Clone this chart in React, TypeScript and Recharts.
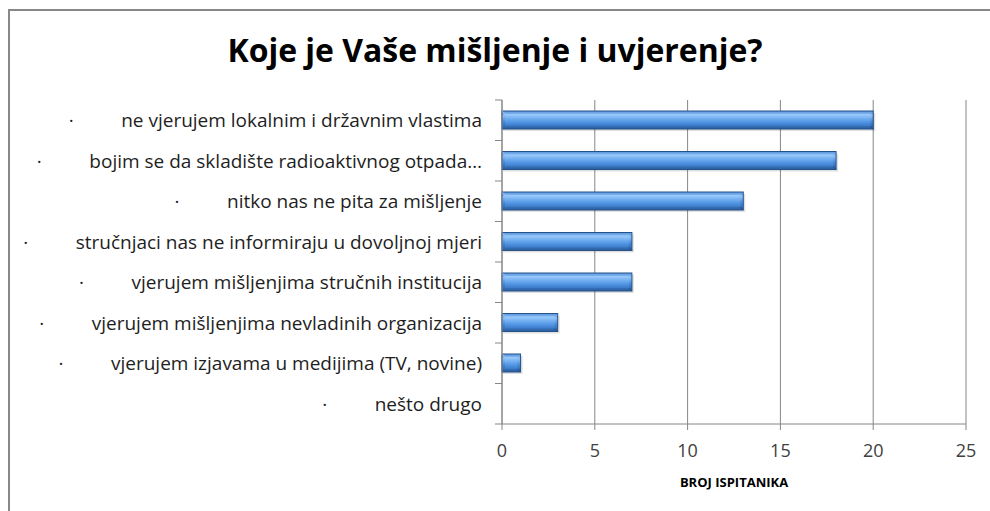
import React from 'react'
import { Bar, BarChart, CartesianGrid, XAxis, YAxis } from 'recharts'

const categories = [
  'ne vjerujem lokalnim i državnim vlastima',
  'bojim se da skladište radioaktivnog otpada…',
  'nitko nas ne pita za mišljenje',
  'stručnjaci nas ne informiraju u dovoljnoj mjeri',
  'vjerujem mišljenjima stručnih institucija',
  'vjerujem mišljenjima nevladinih organizacija',
  'vjerujem izjavama u medijima (TV, novine)',
  'nešto drugo',
]
const counts = [20, 18, 13, 7, 7, 3, 1, 0]
const xTicks = [0, 5, 10, 15, 20, 25]

const data = categories.map((name, i) => ({ name, value: counts[i] }))

const W = 990
const H = 511
const PLOT_LEFT = 502
const PLOT_TOP = 100
const PLOT_BOTTOM = 424
const BAND = (PLOT_BOTTOM - PLOT_TOP) / categories.length
const GRID = '#868686'
const FONT = '"Open Sans", sans-serif'

function CategoryTick(props: any) {
  const { y, payload, index } = props
  const last = index === categories.length - 1
  return (
    <g>
      <line x1={PLOT_LEFT - 7} x2={PLOT_LEFT} y1={y - BAND / 2} y2={y - BAND / 2} stroke={GRID} />
      {last && (
        <line x1={PLOT_LEFT - 7} x2={PLOT_LEFT} y1={y + BAND / 2} y2={y + BAND / 2} stroke={GRID} />
      )}
      <text
        x={PLOT_LEFT - 20}
        y={y}
        dy="0.38em"
        textAnchor="end"
        fontFamily={FONT}
        fontSize={19}
        fill="#1e1e1e"
      >
        {'·\u2002\u2002\u2002\u2002\u2002' + payload.value}
      </text>
    </g>
  )
}

function BevelBar(props: any) {
  const { x, y, width, height } = props
  if (!width || width <= 0) return null
  const inset = Math.min(3, width / 3)
  return (
    <g>
      <rect x={x + 1} y={y + 2} width={width + 1} height={height} fill="#000" opacity={0.12} />
      <rect x={x} y={y} width={width} height={height} fill="url(#barOuter)" stroke="#24538a" strokeWidth={1} />
      <rect
        x={x + inset}
        y={y + 3}
        width={Math.max(0, width - inset * 2)}
        height={height - 6}
        fill="url(#barInner)"
      />
      <line x1={x} y1={y} x2={x + inset} y2={y + 3} stroke="#a8cdf5" strokeWidth={0.8} />
      <line x1={x + width} y1={y + height} x2={x + width - inset} y2={y + height - 3} stroke="#1d4675" strokeWidth={0.8} />
    </g>
  )
}

export default function App() {
  return (
    <div style={{ position: 'fixed', left: 0, top: 0, width: W, height: H, background: '#fff' }}>
      <div
        style={{
          position: 'absolute',
          left: 8,
          top: 9,
          width: W - 8,
          height: H - 9,
          borderTop: '2px solid #888',
          borderLeft: '2px solid #888',
          boxSizing: 'border-box',
        }}
      />
      <svg style={{ position: 'absolute', left: 0, top: 0 }} width={W} height={80}>
        <text
          x={495}
          y={62}
          textAnchor="middle"
          fontFamily={FONT}
          fontWeight="bold"
          fontSize={33}
          textLength={535}
          lengthAdjust="spacingAndGlyphs"
          fill="#000"
        >
          Koje je Vaše mišljenje i uvjerenje?
        </text>
      </svg>
      <div style={{ position: 'absolute', left: 0, top: 0 }}>
        <BarChart
          width={W}
          height={H}
          data={data}
          layout="vertical"
          margin={{ top: PLOT_TOP, right: 24, left: 0, bottom: 57 }}
          barSize={18}
        >
          <defs>
            <linearGradient id="barOuter" x1="0" y1="0" x2="0" y2="1">
              <stop offset="0%" stopColor="#5a95dc" />
              <stop offset="25%" stopColor="#8ec0f6" />
              <stop offset="60%" stopColor="#4688d8" />
              <stop offset="100%" stopColor="#2a5e9e" />
            </linearGradient>
            <linearGradient id="barInner" x1="0" y1="0" x2="0" y2="1">
              <stop offset="0%" stopColor="#9fcdfb" />
              <stop offset="35%" stopColor="#74b0f2" />
              <stop offset="70%" stopColor="#4f93e2" />
              <stop offset="100%" stopColor="#3b7ac8" />
            </linearGradient>
          </defs>
          <CartesianGrid horizontal={false} stroke={GRID} />
          <XAxis
            type="number"
            domain={[0, 25]}
            ticks={xTicks}
            height={30}
            tickSize={6}
            tickMargin={14}
            axisLine={{ stroke: GRID }}
            tickLine={{ stroke: GRID }}
            tick={{ fontFamily: FONT, fontSize: 18, fill: '#404040' }}
            label={{
              value: 'BROJ ISPITANIKA',
              position: 'insideBottom',
              offset: -33,
              style: { fontFamily: FONT, fontSize: 13, fontWeight: 'bold', fill: '#000' },
            }}
          />
          <YAxis
            type="category"
            dataKey="name"
            width={PLOT_LEFT}
            axisLine={{ stroke: GRID }}
            tickLine={false}
            tick={<CategoryTick />}
            interval={0}
          />
          <Bar dataKey="value" shape={<BevelBar />} isAnimationActive={false} />
        </BarChart>
      </div>
    </div>
  )
}
